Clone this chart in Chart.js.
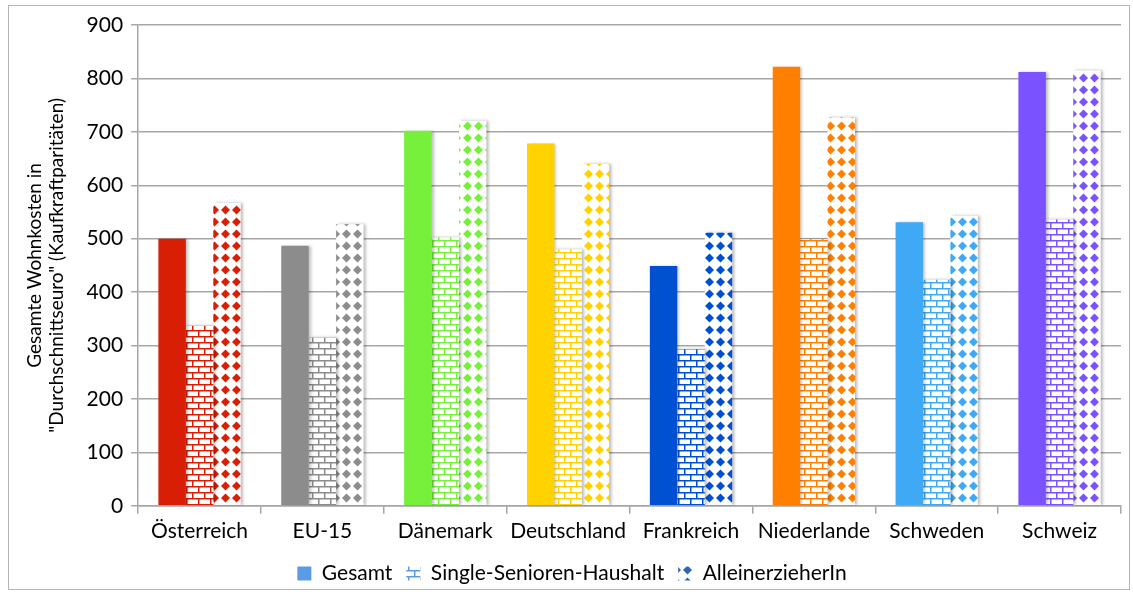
<!DOCTYPE html>
<html>
<head>
<meta charset="utf-8">
<script src="https://cdn.jsdelivr.net/npm/chart.js@4"></script>
<style>
  html, body { margin: 0; padding: 0; background: #fff; }
  #wrap { width: 1133px; height: 594px; position: relative; }
</style>
</head>
<body>
<div id="wrap"><canvas id="c" width="1133" height="594"></canvas></div>
<script>
const countries = ['Österreich', 'EU-15', 'Dänemark', 'Deutschland', 'Frankreich', 'Niederlande', 'Schweden', 'Schweiz'];
const countryColors = ['#d81e05', '#8c8c8c', '#77f03c', '#ffd200', '#0050d2', '#ff7f00', '#3fa9f5', '#7b52ff'];
const gesamt = [500, 487, 702, 678, 449, 822, 531, 812];
const singleSenioren = [337, 315, 502, 480, 293, 499, 423, 536];
const alleinerzieher = [567, 527, 721, 640, 511, 727, 543, 815];
const seriesNames = ['Gesamt', 'Single-Senioren-Haushalt', 'AlleinerzieherIn'];
const yTicks = [0, 100, 200, 300, 400, 500, 600, 700, 800, 900];

function brickPattern(color) {
  const t = document.createElement('canvas');
  t.width = 12; t.height = 12;
  const g = t.getContext('2d');
  g.fillStyle = '#fff'; g.fillRect(0, 0, 12, 12);
  g.fillStyle = color;
  g.fillRect(0, 0, 12, 1.5);
  g.fillRect(0, 6, 12, 1.5);
  g.fillRect(0, 0, 1.5, 6);
  g.fillRect(6, 6, 1.5, 6);
  return g.createPattern(t, 'repeat');
}

function diamondPattern(color) {
  const t = document.createElement('canvas');
  t.width = 11; t.height = 12;
  const g = t.getContext('2d');
  g.fillStyle = '#fff'; g.fillRect(0, 0, 11, 12);
  g.fillStyle = color;
  g.beginPath();
  g.moveTo(5.5, 1.5); g.lineTo(10, 6); g.lineTo(5.5, 10.5); g.lineTo(1, 6);
  g.closePath(); g.fill();
  return g.createPattern(t, 'repeat');
}

const frame = {
  id: 'frame',
  beforeDraw(chart) {
    const ctx = chart.ctx;
    ctx.save();
    ctx.strokeStyle = '#b4b4b4';
    ctx.lineWidth = 1;
    ctx.strokeRect(8.5, 5.5, 1121, 584);
    ctx.restore();
  },
  beforeDatasetsDraw(chart) {
    const ctx = chart.ctx;
    ctx.save();
    ctx.shadowColor = 'rgba(0,0,0,0.28)';
    ctx.shadowBlur = 3;
    ctx.shadowOffsetX = 2;
    ctx.shadowOffsetY = 0;
  },
  afterDatasetsDraw(chart) {
    chart.ctx.restore();
  }
};

const legendBlue = '#5b9be6';
const legendIcons = [legendBlue, brickPattern(legendBlue), diamondPattern('#2a66b8')];

new Chart(document.getElementById('c'), {
  type: 'bar',
  data: {
    labels: countries,
    datasets: [
      { label: seriesNames[0], data: gesamt, backgroundColor: countryColors },
      { label: seriesNames[1], data: singleSenioren, backgroundColor: countryColors.map(brickPattern) },
      { label: seriesNames[2], data: alleinerzieher, backgroundColor: countryColors.map(diamondPattern) }
    ]
  },
  options: {
    responsive: false,
    animation: false,
    devicePixelRatio: 1,
    layout: { padding: { left: 23, right: 12, top: 25, bottom: 0 } },
    datasets: { bar: { barPercentage: 1.0, categoryPercentage: 0.67, borderWidth: 0 } },
    scales: {
      x: {
        grid: { drawOnChartArea: false, drawTicks: true, tickLength: 8, color: '#a6a6a6', lineWidth: 1.5 },
        border: { display: true, color: '#a6a6a6', width: 1.5 },
        ticks: { color: '#000', font: { family: 'Lato', size: 21 }, padding: 5 }
      },
      y: {
        min: 0, max: 900,
        afterBuildTicks(axis) { axis.ticks = yTicks.map(v => ({ value: v })); },
        grid: { color: '#a6a6a6', lineWidth: 1.5, tickLength: 7 },
        border: { display: true, color: '#a6a6a6', width: 1.5 },
        ticks: { color: '#000', font: { family: 'Lato', size: 21 }, padding: 8 },
        title: {
          display: true,
          text: ['Gesamte Wohnkosten in', '"Durchschnittseuro" (Kaufkraftparitäten)'],
          color: '#000', font: { family: 'Lato', size: 19 }, lineHeight: 1.0, padding: { top: 0, bottom: 10 }
        }
      }
    },
    plugins: {
      legend: {
        position: 'bottom',
        labels: {
          color: '#000', font: { family: 'Lato', size: 21 },
          boxWidth: 14, boxHeight: 14, padding: 14,
          generateLabels() {
            return seriesNames.map((n, i) => ({
              text: n, fillStyle: legendIcons[i], strokeStyle: 'rgba(0,0,0,0)', lineWidth: 0, datasetIndex: i, hidden: false
            }));
          }
        }
      },
      tooltip: { enabled: false }
    }
  },
  plugins: [frame]
});
</script>
</body>
</html>
